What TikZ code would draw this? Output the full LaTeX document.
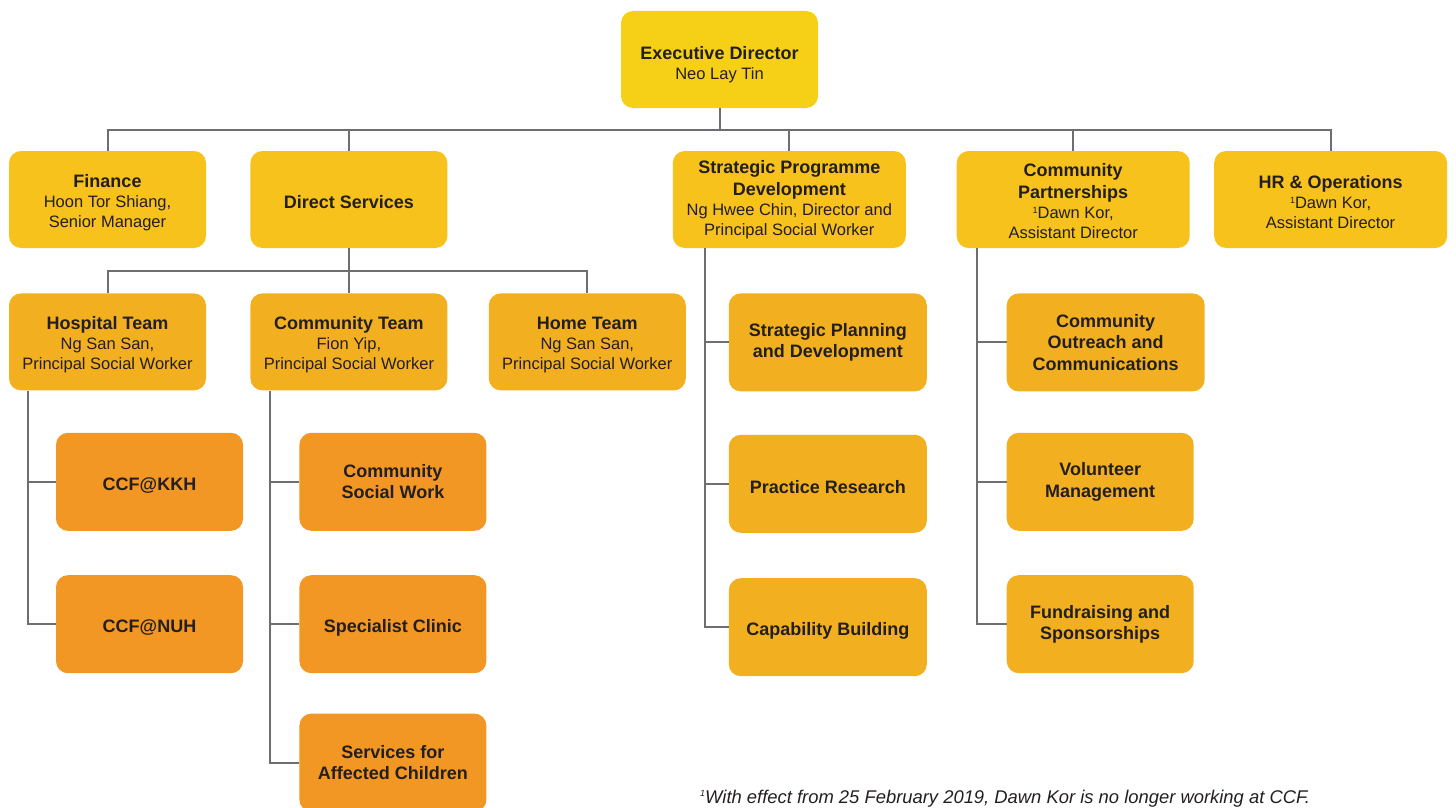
\documentclass[tikz,border=0pt]{standalone}
\usepackage{fontspec}
\setmainfont{Liberation Sans}
\usetikzlibrary{positioning}

\definecolor{edcol}{HTML}{F6D016}
\definecolor{deptcol}{HTML}{F7C21B}
\definecolor{teamcol}{HTML}{F2B021}
\definecolor{unitcol}{HTML}{F29624}
\definecolor{ink}{HTML}{231F20}
\definecolor{wire}{HTML}{6D6E71}

\newcommand\boxhead[1]{{\bfseries\fontsize{18}{22}\selectfont #1}}
\newcommand\boxlift[1]{\rule{0pt}{#1}}
\newcommand\noteone[1]{\raisebox{#1}{\fontsize{9}{9}\selectfont 1}}

\begin{document}
\begin{tikzpicture}[x=1pt,y=-1pt,
    box/.style={rounded corners=12pt,align=center,text=ink,inner sep=0pt,
      minimum height=97pt,font=\fontsize{16.5}{20}\selectfont},
    head/.style={box,fill=edcol,minimum width=197pt},
    dept/.style={box,fill=deptcol,minimum width=197pt},
    team/.style={box,fill=teamcol,minimum width=197pt},
    sub/.style={box,fill=teamcol,minimum width=198pt,minimum height=98pt,
      font=\bfseries\fontsize{18}{21.5}\selectfont},
    unit/.style={box,fill=unitcol,minimum width=187pt,minimum height=98pt,
      font=\bfseries\fontsize{18}{21.5}\selectfont},
    link/.style={draw=wire,line width=2pt}]

  \useasboundingbox (0,0) rectangle (1456,808);

  \node[head] (ed) at (719.5,59.5) {\boxlift{24pt}\boxhead{Executive Director}\\Neo Lay Tin};

  \node[dept] (fin) at (107.5,199.5) {\boxlift{19pt}\boxhead{Finance}\\Hoon Tor Shiang,\\Senior Manager};
  \node[dept] (ds) [right=44pt of fin] {\boxlift{18pt}\boxhead{Direct Services}};
  \node[dept,minimum width=233pt] (spd) [right=225pt of ds]
    {\boxhead{Strategic Programme}\\[2pt]\boxhead{Development}\\Ng Hwee Chin, Director and\\Principal Social Worker};
  \node[dept,minimum width=233pt] (cp) [right=50.5pt of spd]
    {\boxlift{16pt}\boxhead{Community}\\[2pt]\boxhead{Partnerships}\\\noteone{5.4pt}Dawn Kor,\\Assistant Director};
  \node[dept,minimum width=233pt] (hr) [right=24pt of cp]
    {\boxlift{19pt}\boxhead{HR \& Operations}\\\noteone{5.4pt}Dawn Kor,\\Assistant Director};

  \node[team] (ht) [below=45pt of fin] {\boxlift{19pt}\boxhead{Hospital Team}\\Ng San San,\\Principal Social Worker};
  \node[team] (ct) [below=45pt of ds] {\boxlift{19pt}\boxhead{Community Team}\\Fion Yip,\\Principal Social Worker};
  \node[team] (home) [right=41pt of ct] {\boxlift{19pt}\boxhead{Home Team}\\Ng San San,\\Principal Social Worker};

  \node[unit] (kkh) [below right=42pt and 47pt of ht.south west] {\boxlift{20pt}CCF@KKH};
  \node[unit] (nuh) [below=44pt of kkh] {\boxlift{20pt}CCF@NUH};

  \node[unit] (csw) [below right=42pt and 49pt of ct.south west] {Community\\Social Work};
  \node[unit] (sc) [below=44pt of csw] {\boxlift{20pt}Specialist Clinic};
  \node[unit] (sac) [below=40pt of sc] {Services for\\Affected Children};

  \node[sub] (spdev) [below right=45pt and 56pt of spd.south west] {Strategic Planning\\and Development};
  \node[sub] (pr) [below=43pt of spdev] {\boxlift{20pt}Practice Research};
  \node[sub] (cb) [below=45pt of pr] {\boxlift{20pt}Capability Building};

  \node[sub] (coc) [below right=45pt and 50pt of cp.south west] {Community\\Outreach and\\Communications};
  \node[sub,minimum width=187pt] (vol) [below right=41pt and 0pt of coc.south west] {Volunteer\\Management};
  \node[sub,minimum width=187pt] (fr) [below=44pt of vol] {Fundraising and\\Sponsorships};

  \node[anchor=base west,text=ink,inner sep=0pt,font=\itshape\fontsize{18.4}{20}\selectfont] (note) at (700,803)
    {\noteone{6.2pt}With effect from 25 February 2019, Dawn Kor is no longer working at CCF.};

  \draw[link] (ed.south) -- ++(0,22);
  \foreach \d in {fin,ds,spd,cp,hr}
    \draw[link] (ed.south) ++(0,22) -| (\d.north);
  \foreach \t in {ht,ct,home}
    \draw[link] (ds.south) -- ++(0,23) -| (\t.north);

  \foreach \u in {kkh,nuh}
    \draw[link] ([xshift=19pt]ht.south west) |- (\u.west);
  \foreach \u in {csw,sc,sac}
    \draw[link] ([xshift=20pt]ct.south west) |- (\u.west);
  \foreach \u in {spdev,pr,cb}
    \draw[link] ([xshift=32pt]spd.south west) |- (\u.west);
  \foreach \u in {coc,vol,fr}
    \draw[link] ([xshift=20pt]cp.south west) |- (\u.west);

\end{tikzpicture}
\end{document}
